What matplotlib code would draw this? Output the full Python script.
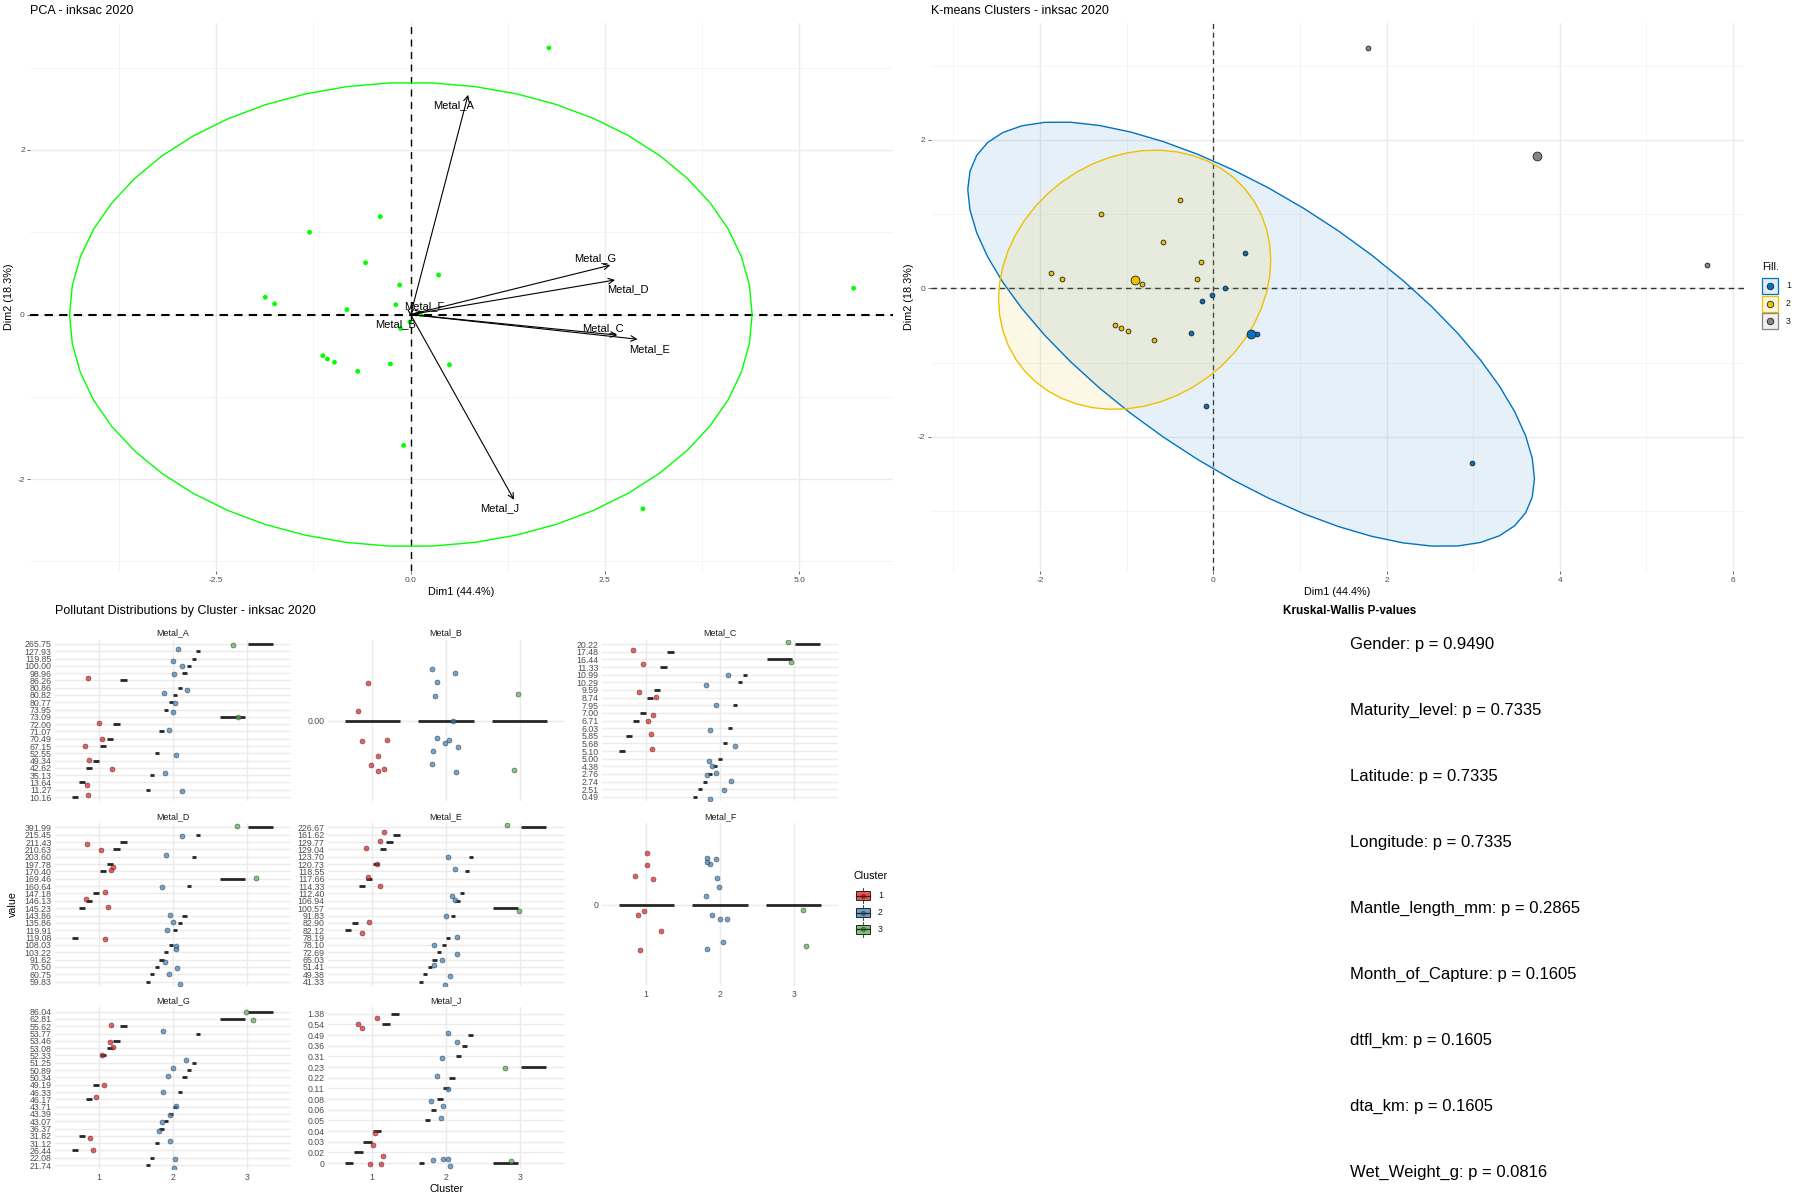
import numpy as np
import matplotlib
matplotlib.use("Agg")
import matplotlib.pyplot as plt
from matplotlib.patches import Rectangle, Polygon
from matplotlib.ticker import MultipleLocator, FormatStrFormatter

plt.rcParams['font.family'] = ['Liberation Sans', 'DejaVu Sans']
plt.rcParams['axes.unicode_minus'] = False

# ---------------------------------------------------------------- data
# PCA individual scores (Dim1, Dim2) and k-means cluster of each individual
dim1 = [1.78, 5.70, -0.39, -1.30, -0.58, -1.87, -1.75, -0.14, -0.19, -0.82, -1.13,
        -1.07, -0.98, -0.68, 0.36, 0.13, -0.01, -0.13, -0.26, 0.50, -0.09, 2.99]
dim2 = [3.24, 0.32, 1.19, 1.00, 0.63, 0.21, 0.13, 0.36, 0.12, 0.06, -0.50,
        -0.54, -0.58, -0.69, 0.48, 0.00, -0.09, -0.17, -0.60, -0.61, -1.59, -2.36]
kmeans_cluster = [3, 3, 2, 2, 2, 2, 2, 2, 2, 2, 2, 2, 2, 2, 1, 1, 1, 1, 1, 1, 1, 1]

# PCA variable arrows (scaled loadings)
loading_names = ["Metal_A", "Metal_B", "Metal_C", "Metal_D", "Metal_E", "Metal_F", "Metal_G", "Metal_J"]
loading_dim1 = [0.74, 0.00, 2.66, 2.63, 2.92, 0.15, 2.57, 1.33]
loading_dim2 = [2.67, -0.02, -0.25, 0.42, -0.30, 0.04, 0.60, -2.25]

dim1_title = "Dim1 (44.4%)"
dim2_title = "Dim2 (18.3%)"

# pollutant values (as shown on the category axes) per boxplot cluster
metal_A = {1: ["86.26", "72.00", "70.49", "67.15", "49.34", "42.62", "13.64", "10.16"],
           2: ["127.93", "119.85", "100.00", "98.96", "80.86", "80.82", "80.77", "73.95",
               "71.07", "52.55", "35.13", "11.27"],
           3: ["265.75", "73.09"]}
metal_B = {1: ["0.00"] * 8, 2: ["0.00"] * 12, 3: ["0.00"] * 2}
metal_C = {1: ["17.48", "11.33", "9.59", "8.74", "7.00", "6.71", "5.85", "5.10"],
           2: ["10.99", "10.29", "7.95", "6.03", "5.68", "5.00", "4.38", "2.76", "2.76",
               "2.74", "2.51", "0.49"],
           3: ["20.22", "16.44"]}
metal_D = {1: ["211.43", "210.63", "197.78", "170.40", "147.18", "146.13", "145.23", "119.08"],
           2: ["215.45", "203.60", "160.64", "143.86", "135.86", "119.91", "108.03", "103.22",
               "91.62", "70.50", "60.75", "59.83"],
           3: ["391.99", "169.46"]}
metal_E = {1: ["161.62", "129.77", "129.04", "120.73", "117.66", "114.33", "82.90", "82.12"],
           2: ["123.70", "118.55", "112.40", "106.94", "91.83", "78.19", "78.10", "72.69",
               "65.03", "51.41", "49.38", "41.33"],
           3: ["226.67", "100.57"]}
metal_F = {1: ["0"] * 8, 2: ["0"] * 12, 3: ["0"] * 2}
metal_G = {1: ["55.62", "53.46", "53.08", "52.33", "49.19", "46.17", "31.82", "26.44"],
           2: ["53.77", "51.25", "50.89", "50.34", "46.33", "43.71", "43.39", "43.07",
               "36.37", "31.12", "22.08", "21.74"],
           3: ["86.04", "62.81"]}
metal_J = {1: ["1.38", "0.54", "0.54", "0.04", "0.03", "0.02", "0", "0"],
           2: ["0.49", "0.36", "0.31", "0.22", "0.11", "0.08", "0.06", "0.05", "0", "0", "0", "0"],
           3: ["0.23", "0"]}

kw_variables = ["Gender", "Maturity_level", "Latitude", "Longitude", "Mantle_length_mm",
                "Month_of_Capture", "dtfl_km", "dta_km", "Wet_Weight_g"]
kw_pvalues = [0.9490, 0.7335, 0.7335, 0.7335, 0.2865, 0.1605, 0.1605, 0.1605, 0.0816]

# ---------------------------------------------------------------- styles
box_colors = {1: "#E41A1C", 2: "#377EB8", 3: "#4DAF4A"}
km_colors = {1: "#0073C2", 2: "#EFC000", 3: "#868686"}
pca_green = "#00FF00"
TICK_COL = "#4D4D4D"
GRID_COL = "#EBEBEB"
# label nudges for arrow names (text placement)
label_nudge = {"Metal_A": (-0.19, -0.12), "Metal_B": (-0.20, -0.10), "Metal_C": (-0.18, 0.09),
               "Metal_D": (0.17, -0.11), "Metal_E": (0.15, -0.12), "Metal_F": (0.02, 0.06),
               "Metal_G": (-0.19, 0.08), "Metal_J": (-0.19, -0.10)}

W, H = 1800.0, 1200.0
fig = plt.figure(figsize=(18, 12), dpi=100)
fig.patch.set_facecolor("white")


def px_axes(x0, y0, x1, y1):
    return fig.add_axes([x0 / W, 1 - y1 / H, (x1 - x0) / W, (y1 - y0) / H])


def norm_ellipse(x, y, level=0.95, segments=51):
    x = np.asarray(x, float)
    y = np.asarray(y, float)
    n = len(x)
    center = np.array([x.mean(), y.mean()])
    shape = np.cov(np.vstack([x, y]))
    d = n - 1
    fq = (d / 2.0) * ((1 - level) ** (-2.0 / d) - 1)   # F(2, d) quantile
    radius = np.sqrt(2 * fq)
    t = np.linspace(0, 2 * np.pi, segments)
    circle = np.column_stack([np.cos(t), np.sin(t)])
    L = np.linalg.cholesky(shape)
    return center + radius * circle @ L.T


def expand(lo, hi, f=0.05):
    r = hi - lo
    return lo - f * r, hi + f * r


def style_top(ax, xmaj, xmin_, ymaj, ymin_, xfmt):
    for s in ax.spines.values():
        s.set_visible(False)
    ax.xaxis.set_major_locator(MultipleLocator(xmaj))
    ax.xaxis.set_minor_locator(MultipleLocator(xmin_))
    ax.yaxis.set_major_locator(MultipleLocator(ymaj))
    ax.yaxis.set_minor_locator(MultipleLocator(ymin_))
    ax.xaxis.set_major_formatter(FormatStrFormatter(xfmt))
    ax.yaxis.set_major_formatter(FormatStrFormatter("%d"))
    ax.grid(which="major", color=GRID_COL, lw=1.0)
    ax.grid(which="minor", color="#F3F3F3", lw=0.6)
    ax.set_axisbelow(True)
    ax.tick_params(which="minor", length=0)
    ax.tick_params(which="major", length=2, width=0.5, color="#333333",
                   labelsize=6.0, labelcolor=TICK_COL, pad=2)


# ---------------------------------------------------------------- PCA biplot
d1 = np.array(dim1)
d2 = np.array(dim2)
ax1 = px_axes(30.4, 23, 892.8, 571)
ell = norm_ellipse(d1, d2)
ax1.add_patch(Polygon(ell, closed=True, fill=False, edgecolor=pca_green, lw=1.0, zorder=2))
ax1.scatter(d1, d2, s=12, color=pca_green, edgecolors="none", zorder=3)
ax1.axhline(0, color="black", lw=1.5, ls=(0, (4, 3)), zorder=1.5)
ax1.axvline(0, color="black", lw=1.0, ls=(0, (5, 4)), zorder=1.5)
for nm, lx, ly in zip(loading_names, loading_dim1, loading_dim2):
    if abs(lx) + abs(ly) > 1e-9:
        ax1.annotate("", xy=(lx, ly), xytext=(0, 0),
                     arrowprops=dict(arrowstyle="->", lw=0.8, color="black",
                                     mutation_scale=10, shrinkA=0, shrinkB=0), zorder=4)
    nx, ny = label_nudge[nm]
    ax1.text(lx + nx, ly + ny, nm, fontsize=8, ha="center", va="center", color="black", zorder=5)
xs = np.concatenate([d1, ell[:, 0], loading_dim1])
ys = np.concatenate([d2, ell[:, 1], loading_dim2])
ax1.set_xlim(*expand(xs.min(), xs.max()))
ax1.set_ylim(*expand(ys.min(), ys.max()))
style_top(ax1, 2.5, 1.25, 2, 1, "%.1f")

# ---------------------------------------------------------------- K-means
kc = np.array(kmeans_cluster)
ax2 = px_axes(930.8, 23, 1744, 571)
allx = [d1]
ally = [d2]
for c in (1, 2, 3):
    m = kc == c
    if m.sum() >= 3:
        e = norm_ellipse(d1[m], d2[m])
        ax2.add_patch(Polygon(e, closed=True, facecolor=km_colors[c], alpha=0.1,
                              edgecolor="none", zorder=2))
        ax2.add_patch(Polygon(e, closed=True, fill=False, edgecolor=km_colors[c],
                              lw=1.0, zorder=2.1))
        allx.append(e[:, 0])
        ally.append(e[:, 1])
ax2.axhline(0, color="#333333", lw=1.0, ls=(0, (4, 3)), zorder=1.5)
ax2.axvline(0, color="#333333", lw=0.9, ls=(0, (4, 3)), zorder=1.5)
for c in (1, 2, 3):
    m = kc == c
    ax2.scatter(d1[m], d2[m], s=12, color=km_colors[c], edgecolors="#222222",
                linewidths=0.6, zorder=3)
    ax2.scatter([d1[m].mean()], [d2[m].mean()], s=40, color=km_colors[c],
                edgecolors="#222222", linewidths=0.6, zorder=3.5)
xs = np.concatenate(allx)
ys = np.concatenate(ally)
ax2.set_xlim(*expand(xs.min(), xs.max()))
ax2.set_ylim(*expand(ys.min(), ys.max()))
style_top(ax2, 2, 1, 2, 1, "%d")

# ---------------------------------------------------------------- facets
metal_data = {"Metal_A": metal_A, "Metal_B": metal_B, "Metal_C": metal_C,
              "Metal_D": metal_D, "Metal_E": metal_E, "Metal_F": metal_F,
              "Metal_G": metal_G, "Metal_J": metal_J}
facet_order = ["Metal_A", "Metal_B", "Metal_C", "Metal_D", "Metal_E", "Metal_F", "Metal_G", "Metal_J"]
col_x = [(55, 291), (328, 564), (602, 838)]
row_y = [(639.6, 801.4), (822.9, 986.1), (1007.3, 1169.4)]
show_x = {"Metal_F", "Metal_G", "Metal_J"}
rng = np.random.default_rng(11)

for i, nm in enumerate(facet_order):
    r, cidx = divmod(i, 3)
    x0, x1 = col_x[cidx]
    y0, y1 = row_y[r]
    ax = px_axes(x0, y0, x1, y1)
    data = metal_data[nm]
    allv = [v for c in (1, 2, 3) for v in data[c]]
    cats = sorted(set(allv), key=float)
    ypos = {v: k + 1 for k, v in enumerate(cats)}
    ax.set_xlim(0.4, 3.6)
    ax.set_ylim(0.4, len(cats) + 0.6)
    for k in range(1, len(cats) + 1):
        ax.axhline(k, color=GRID_COL, lw=1.0, zorder=0)
    for xv in (1, 2, 3):
        ax.axvline(xv, color=GRID_COL, lw=1.0, zorder=0)
    for c in (1, 2, 3):
        groups = sorted(set(data[c]), key=float)
        n = len(groups)
        slot = 0.75 / n
        bw = slot * (0.9 if n > 1 else 1.0)
        for k, g in enumerate(groups):
            xc = c - 0.375 + slot * (k + 0.5)
            ax.plot([xc - bw / 2, xc + bw / 2], [ypos[g], ypos[g]], color="#262626",
                    lw=2.0, solid_capstyle="butt", zorder=2)
    for c in (1, 2, 3):
        vals = data[c]
        jx = rng.uniform(-0.2, 0.2, len(vals))
        jy = rng.uniform(-0.4, 0.4, len(vals))
        yy = np.array([ypos[v] for v in vals], float) + jy
        ax.scatter(c + jx, yy, s=13, color=box_colors[c], alpha=0.7,
                   edgecolors="#333333", linewidths=0.45, zorder=3)
    for s in ax.spines.values():
        s.set_visible(False)
    ax.set_yticks(range(1, len(cats) + 1))
    ax.set_yticklabels(cats)
    ax.set_xticks([1, 2, 3])
    if nm in show_x:
        ax.set_xticklabels(["1", "2", "3"])
    else:
        ax.set_xticklabels([])
    ax.tick_params(length=0, labelsize=6.3, labelcolor=TICK_COL, pad=2.5)
    ax.set_title(nm, fontsize=6.4, color="#1A1A1A", pad=3)

# ---------------------------------------------------------------- overlay texts & legends
ov = fig.add_axes([0, 0, 1, 1])
ov.set_xlim(0, W)
ov.set_ylim(H, 0)
ov.axis("off")
ov.patch.set_alpha(0)

ov.text(30.4, 10.5, "PCA - inksac 2020", fontsize=9, ha="left", va="center")
ov.text(930.8, 10.5, "K-means Clusters - inksac 2020", fontsize=9, ha="left", va="center")
ov.text((30.4 + 892.8) / 2, 592, dim1_title, fontsize=7.8, ha="center", va="center")
ov.text((930.8 + 1744) / 2, 592, dim1_title, fontsize=7.8, ha="center", va="center")
ov.text(9, 297, dim2_title, fontsize=7.8, ha="center", va="center", rotation=90)
ov.text(909, 297, dim2_title, fontsize=7.8, ha="center", va="center", rotation=90)

# k-means legend
ov.text(1762, 267, "Fill.", fontsize=7.7, ha="left", va="center")
for k, c in enumerate((1, 2, 3)):
    cy = 286 + k * 17.5
    ov.add_patch(Rectangle((1762, cy - 8), 16, 16, facecolor=km_colors[c], alpha=0.12,
                           edgecolor="none"))
    ov.add_patch(Rectangle((1762, cy - 8), 16, 16, fill=False, edgecolor=km_colors[c], lw=0.9))
    ov.scatter([1770], [cy], s=22, color=km_colors[c], edgecolors="#222222", linewidths=0.6)
    ov.text(1786, cy, str(c), fontsize=6.3, ha="left", va="center", color="#1A1A1A")

# facet titles / axes titles
ov.text(55, 611, "Pollutant Distributions by Cluster - inksac 2020", fontsize=9, ha="left", va="center")
ov.text((55 + 838) / 2, 1189, "Cluster", fontsize=7.7, ha="center", va="center")
ov.text(13, (639.6 + 1169.4) / 2, "value", fontsize=7.7, ha="center", va="center", rotation=90)

# boxplot legend
ov.text(854, 876, "Cluster", fontsize=7.7, ha="left", va="center")
for k, c in enumerate((1, 2, 3)):
    cy = 895.7 + k * 16.8
    ov.add_patch(Rectangle((856, cy - 4.5), 14, 9, facecolor=box_colors[c], alpha=0.75,
                           edgecolor="none"))
    ov.add_patch(Rectangle((856, cy - 4.5), 14, 9, fill=False, edgecolor="#262626", lw=0.7))
    ov.plot([856, 870], [cy, cy], color="#262626", lw=0.9)
    ov.plot([863, 863], [cy - 7.5, cy - 4.5], color="#262626", lw=0.6)
    ov.plot([863, 863], [cy + 4.5, cy + 7.5], color="#262626", lw=0.6)
    ov.scatter([863], [cy], s=9, color=box_colors[c], edgecolors="#333333", linewidths=0.4)
    ov.text(878, cy, str(c), fontsize=6.3, ha="left", va="center", color="#1A1A1A")

# Kruskal-Wallis panel
ov.text(1350, 611, "Kruskal-Wallis P-values", fontsize=8.5, fontweight="bold",
        ha="center", va="center")
row_step = 66.1
for k, (v, p) in enumerate(zip(kw_variables, kw_pvalues)):
    ov.text(1350, 644 + k * row_step, f"{v}: p = {p:.4f}", fontsize=12,
            ha="left", va="center", color="black")

fig.savefig("out.png", dpi=100, facecolor="white")
